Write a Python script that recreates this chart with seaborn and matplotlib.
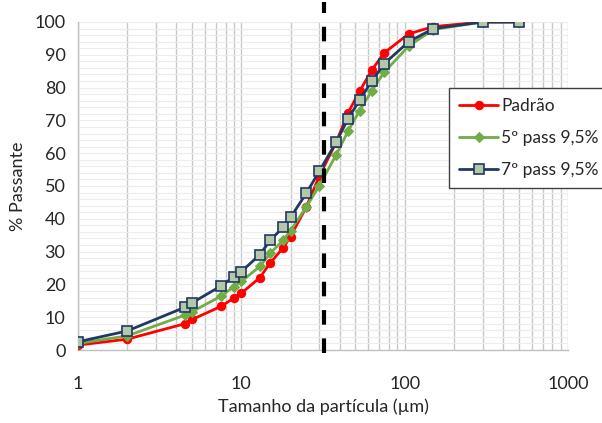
import numpy as np
import pandas as pd
import seaborn as sns
import matplotlib
matplotlib.use("Agg")
import matplotlib.pyplot as plt
from matplotlib.ticker import MultipleLocator, LogLocator, FixedLocator, NullFormatter

# particle sizes (um) and % passing for each sample
tamanho = [1, 2, 4.5, 5, 7.5, 9, 10, 13, 15, 18, 20, 25, 30, 38, 45, 53, 63, 75, 106, 150, 300, 500]
padrao = [1.5, 3.3, 8.0, 9.3, 13.3, 15.8, 17.3, 22.1, 26.5, 31.1, 34.6, 43.6, 53.0, 63.2,
          72.3, 78.9, 85.4, 90.6, 96.4, 98.6, 100, 100]
pass5 = [2.0, 4.3, 10.6, 11.7, 16.4, 19.3, 20.9, 25.5, 29.5, 33.4, 36.4, 43.6, 50.1, 59.4,
         66.7, 73.0, 79.1, 84.7, 92.7, 97.7, 100, 100]
pass7 = [2.5, 5.8, 13.0, 14.4, 19.5, 22.3, 23.9, 29.1, 33.4, 37.4, 40.4, 47.8, 54.5, 63.3,
         70.5, 76.2, 82.0, 87.3, 94.0, 98.0, 100, 100]
nomes = ["Padrão", "5º pass 9,5%", "7º pass 9,5%"]
corte = 32  # dashed reference line

sns.set_style("white")
plt.rcParams["font.family"] = ["Lato", "DejaVu Sans"]

fig = plt.figure(figsize=(6.02, 4.23), dpi=100)
ax = fig.add_axes([78 / 602, 1 - 350 / 423, 490 / 602, 328 / 423])

df = pd.DataFrame({"x": tamanho * 3,
                   "y": padrao + pass5 + pass7,
                   "serie": [nomes[0]] * len(tamanho) + [nomes[1]] * len(tamanho) + [nomes[2]] * len(tamanho)})

estilos = [
    dict(color="#ff0000", marker="o", markersize=6, mfc="#ff0000", mec="#ff0000"),
    dict(color="#70ad47", marker="D", markersize=5.5, mfc="#70ad47", mec="#70ad47"),
    dict(color="#203864", marker="s", markersize=7, mfc="#b4c8a8", mec="#203864", mew=1.2),
]
for nome, st in zip(nomes, estilos):
    sub = df[df.serie == nome]
    sns.lineplot(data=sub, x="x", y="y", ax=ax, label=nome, lw=2, zorder=3, **st)

ax.axvline(corte, ymin=-0.01, ymax=1.06, color="black", lw=3, ls=(0, (3.5, 3.3)),
           clip_on=False, zorder=4)

ax.set_xscale("log")
ax.set_xlim(1, 1000)
ax.set_ylim(0, 100)
ax.yaxis.set_major_locator(MultipleLocator(10))
ax.yaxis.set_minor_locator(MultipleLocator(2))
ax.xaxis.set_major_locator(FixedLocator([1, 10, 100, 1000]))
ax.xaxis.set_minor_locator(LogLocator(base=10, subs=np.arange(2, 10)))
ax.xaxis.set_minor_formatter(NullFormatter())
ax.set_xticklabels(["1", "10", "100", "1000"])

ax.grid(True, axis="x", which="both", color="#c8c8c8", lw=1)
ax.grid(True, axis="y", which="both", color="#ececec", lw=0.8)
ax.set_axisbelow(True)

for s in ["top", "right"]:
    ax.spines[s].set_visible(False)
for s in ["left", "bottom"]:
    ax.spines[s].set_color("#c0c0c0")
    ax.spines[s].set_linewidth(1)

ax.tick_params(axis="both", which="major", labelsize=13, length=5, color="#c0c0c0",
               direction="out", pad=4)
ax.tick_params(axis="x", which="minor", length=0)
ax.tick_params(axis="y", which="minor", length=0)
ax.tick_params(axis="x", which="major", pad=14)

ax.set_xlabel("Tamanho da partícula (µm)", fontsize=13, labelpad=4)
ax.set_ylabel("% Passante", fontsize=13, labelpad=6)

leg = ax.legend(loc="upper left", bbox_to_anchor=(449 / 602, 1 - 88 / 423),
                bbox_transform=fig.transFigure, frameon=True, fancybox=False,
                fontsize=12.5, handlelength=2.2, handletextpad=0.2,
                borderpad=0.6, labelspacing=0.9, borderaxespad=0)
leg.get_frame().set_edgecolor("#404040")
leg.get_frame().set_linewidth(1)
leg.get_frame().set_alpha(1)

fig.savefig("out.png", dpi=100)
